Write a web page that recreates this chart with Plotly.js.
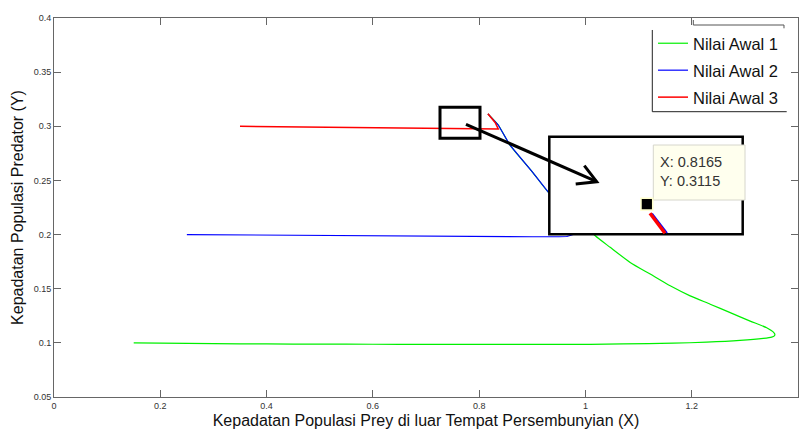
<!DOCTYPE html>
<html>
<head>
<meta charset="utf-8">
<script src="https://cdn.plot.ly/plotly-3.0.1.min.js"></script>
<style>html,body{margin:0;padding:0;background:#fff;}#chart{width:800px;height:429px;}</style>
</head>
<body>
<div id="chart"></div>
<script>
// ---- data ----
const seriesNames = ["Nilai Awal 1", "Nilai Awal 2", "Nilai Awal 3"];
const seriesColors = ["#00f000", "#0000ff", "#ff0000"];

const x1 = [0.15, 0.2, 0.3, 0.4, 0.5, 0.6, 0.7, 0.8, 0.9, 1.0086, 1.0708, 1.1654, 1.2282, 1.2909, 1.3347, 1.3505, 1.3555, 1.3565, 1.3549, 1.3411, 1.31, 1.2724, 1.2348, 1.1971, 1.1595, 1.1219, 1.0842, 1.0466, 1.018, 0.99, 0.96, 0.93, 0.9, 0.858, 0.836, 0.8165];
const y1 = [0.1, 0.0998, 0.0993, 0.099, 0.0988, 0.0987, 0.0986, 0.0986, 0.0986, 0.0986, 0.0991, 0.0997, 0.1006, 0.1022, 0.1041, 0.1053, 0.1065, 0.1078, 0.1093, 0.1139, 0.1201, 0.1279, 0.1357, 0.1434, 0.1527, 0.1635, 0.1743, 0.1882, 0.1991, 0.214, 0.228, 0.2393, 0.258, 0.2826, 0.3012, 0.3115];

const x2 = [0.25, 0.3, 0.4, 0.5, 0.6, 0.7, 0.8, 0.9, 0.95, 0.965, 0.98, 0.995, 1.0, 0.99, 0.965, 0.93, 0.9, 0.858, 0.836, 0.8165];
const y2 = [0.2, 0.1998, 0.1995, 0.1992, 0.1988, 0.1985, 0.1982, 0.198, 0.198, 0.1982, 0.2005, 0.206, 0.213, 0.222, 0.2305, 0.2393, 0.258, 0.2826, 0.3012, 0.3115];

const x3 = [0.35, 0.4, 0.5, 0.6, 0.7, 0.8, 0.836, 0.83, 0.8165];
const y3 = [0.3, 0.2998, 0.2993, 0.2987, 0.2982, 0.2977, 0.2975, 0.3035, 0.3115];

const xTicks = [0, 0.2, 0.4, 0.6, 0.8, 1, 1.2, 1.4];
const yTicks = [0.05, 0.1, 0.15, 0.2, 0.25, 0.3, 0.35, 0.4];
const tipText = "X: 0.8165<br>Y: 0.3115";

// ---- layout geometry ----
const W = 800, H = 429, ML = 54, MR = 2, MT = 18, MB = 32;
const PW = W - ML - MR, PH = H - MT - MB;
const px = v => (v - ML) / PW;          // pixel x -> paper
const py = v => (H - MB - v) / PH;      // pixel y -> paper
const pathP = pts => pts.map((p, i) => (i ? "L" : "M") + px(p[0]).toFixed(5) + "," + py(p[1]).toFixed(5)).join(" ");

const FONT = "Arial, 'Liberation Sans', sans-serif";

const traces = [[x1, y1], [x2, y2], [x3, y3]].map((d, i) => ({
  x: d[0], y: d[1], type: "scatter", mode: "lines",
  name: seriesNames[i], legendgroup: "g" + i,
  line: {color: seriesColors[i], width: 1.2}
}));
traces[0].line.shape = "spline";
traces[0].line.smoothing = 0.6;
traces[2].line.width = 1.5;

const shapes = [
  // small selection box
  {type: "rect", xref: "paper", yref: "paper", x0: px(440), x1: px(480), y0: py(138.3), y1: py(107.3), line: {color: "#000", width: 3}, layer: "above"},
  // inset (zoomed) box
  {type: "rect", xref: "paper", yref: "paper", x0: px(549.3), x1: px(742.7), y0: py(234.3), y1: py(136.7), fillcolor: "#fff", line: {color: "#000", width: 2.5}, layer: "above"},
  // zoomed trajectory pieces inside the inset
  {type: "line", xref: "paper", yref: "paper", x0: px(652), y0: py(213.5), x1: px(667), y1: py(233), line: {color: "#0000ff", width: 2}, layer: "above"},
  {type: "line", xref: "paper", yref: "paper", x0: px(650), y0: py(213.3), x1: px(665), y1: py(233.3), line: {color: "#ff0000", width: 3.5}, layer: "above"},
  // arrow
  {type: "path", xref: "paper", yref: "paper", path: pathP([[466, 124.3], [596.7, 181.7]]), line: {color: "#000", width: 3}, layer: "above"},
  {type: "path", xref: "paper", yref: "paper", path: pathP([[584.3, 165.7], [596.7, 181.7], [575.7, 184]]), line: {color: "#000", width: 3}, layer: "above"},
  // data tip box
  {type: "rect", xref: "paper", yref: "paper", x0: px(653.3), x1: px(745), y0: py(200), y1: py(145), fillcolor: "#ffffee", line: {color: "#d6d6cc", width: 1}, layer: "above"},
  // data tip marker
  {type: "rect", xref: "paper", yref: "paper", x0: px(641), x1: px(652.7), y0: py(210), y1: py(198.3), fillcolor: "#000", line: {color: "#ffffcc", width: 1.5}, layer: "above"},
  // legend frame pieces
  {type: "path", xref: "paper", yref: "paper", path: pathP([[652.3, 30], [652.3, 111.7], [786.7, 111.7]]), line: {color: "#222", width: 1}, layer: "above"},
  {type: "path", xref: "paper", yref: "paper", path: pathP([[693.3, 20], [693.3, 25], [784, 25], [784, 28.3]]), line: {color: "#555", width: 1}, layer: "above"}
];

const annotations = [
  {xref: "paper", yref: "paper", x: px(658), y: py(172), xanchor: "left", yanchor: "middle", text: tipText, showarrow: false, align: "left", font: {family: FONT, size: 14.5, color: "#333"}}
];

const axisCommon = {
  showgrid: false, zeroline: false, showline: true, linecolor: "#666", linewidth: 1,
  mirror: "ticks", ticks: "inside", ticklen: 7, tickcolor: "#666", tickwidth: 1,
  tickfont: {family: FONT, size: 9, color: "#333"}
};

const layout = {
  width: W, height: H,
  margin: {l: ML, r: MR, t: MT, b: MB, pad: 0},
  paper_bgcolor: "#fff", plot_bgcolor: "#fff",
  showlegend: true,
  legend: {x: px(653), y: py(26), xanchor: "left", yanchor: "top", bgcolor: "rgba(0,0,0,0)", borderwidth: 0,
    font: {family: FONT, size: 16.5, color: "#111"}, tracegroupgap: 2.5, traceorder: "grouped"},
  xaxis: Object.assign({}, axisCommon, {
    range: [0, 1.4], tickvals: xTicks, ticktext: xTicks.map(String),
    title: {text: "Kepadatan Populasi Prey di luar Tempat Persembunyian (X)", font: {family: FONT, size: 16, color: "#111"}, standoff: 5}
  }),
  yaxis: Object.assign({}, axisCommon, {
    range: [0.05, 0.4], tickvals: yTicks, ticktext: yTicks.map(String),
    title: {text: "Kepadatan Populasi Predator (Y)", font: {family: FONT, size: 16, color: "#111"}, standoff: 6}
  }),
  shapes: shapes,
  annotations: annotations
};

Plotly.newPlot("chart", traces, layout, {displayModeBar: false, staticPlot: true});
</script>
</body>
</html>
